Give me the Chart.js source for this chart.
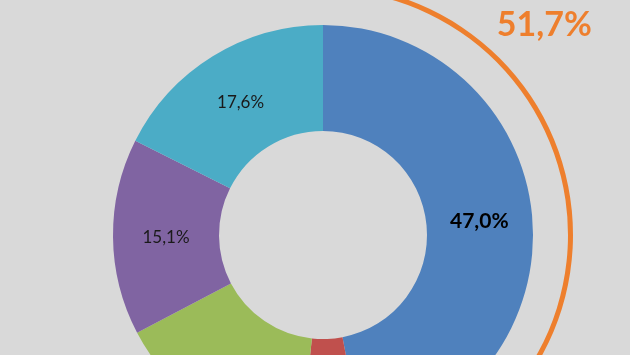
<!DOCTYPE html>
<html>
<head>
<meta charset="utf-8">
<script src="https://cdn.jsdelivr.net/npm/chart.js@4/dist/chart.umd.min.js"></script>
<style>
  html, body { margin:0; padding:0; width:630px; height:355px; overflow:hidden; background:#D9D9D9; }
  #wrap { position:absolute; left:0; top:-30px; width:646px; height:530px; }
</style>
</head>
<body>
<div id="wrap"><canvas id="c"></canvas></div>
<script>
// Data
const categories = ["A", "B", "C", "D", "E"];
const shares = [47.0, 4.7, 15.6, 15.1, 17.6];
const shareLabels = ["47,0%", "4,7%", "15,6%", "15,1%", "17,6%"];
const highlightShare = [51.7, 48.3];
const highlightLabel = "51,7%";

const colors = ["#4F81BD", "#C0504D", "#9BBB59", "#8064A2", "#4BACC6"];
const orange = "#EE7F2D";

const labelPlugin = {
  id: 'labels',
  afterDatasetsDraw(chart) {
    const ctx = chart.ctx;
    ctx.save();
    ctx.textAlign = 'center';
    ctx.textBaseline = 'middle';
    // main ring labels
    const meta = chart.getDatasetMeta(2);
    meta.data.forEach((arc, i) => {
      const p = arc.tooltipPosition();
      ctx.font = (i === 0 ? 'bold 21px' : '17px') + ' Lato, "Open Sans", sans-serif';
      ctx.fillStyle = i === 0 ? '#000000' : '#1a1a1a';
      ctx.fillText(shareLabels[i], p.x, p.y + 1);
    });
    // highlight label
    const hm = chart.getDatasetMeta(0).data[0];
    const props = hm.getProps(['x','y','startAngle','endAngle','outerRadius']);
    const ang = props.startAngle + (props.endAngle - props.startAngle) * 0.25;
    const r = props.outerRadius * 1.22;
    ctx.font = 'bold 34px Lato, "Open Sans", sans-serif';
    ctx.fillStyle = orange;
    ctx.fillText(highlightLabel, props.x + Math.cos(ang) * r, props.y + Math.sin(ang) * r);
    ctx.restore();
  }
};

new Chart(document.getElementById('c'), {
  type: 'doughnut',
  data: {
    labels: categories,
    datasets: [
      { data: highlightShare, backgroundColor: [orange, 'rgba(0,0,0,0)'], borderWidth: 0, weight: 5 },
      { data: [1], backgroundColor: ['rgba(0,0,0,0)'], borderWidth: 0, weight: 35 },
      { data: shares, backgroundColor: colors, borderWidth: 0, weight: 106 }
    ]
  },
  options: {
    responsive: true,
    maintainAspectRatio: false,
    devicePixelRatio: 1,
    animation: false,
    cutout: 104,
    layout: { padding: { top: 15, bottom: 15, left: 0, right: 0 } },
    plugins: { legend: { display: false }, tooltip: { enabled: false } }
  },
  plugins: [labelPlugin]
});
</script>
</body>
</html>
